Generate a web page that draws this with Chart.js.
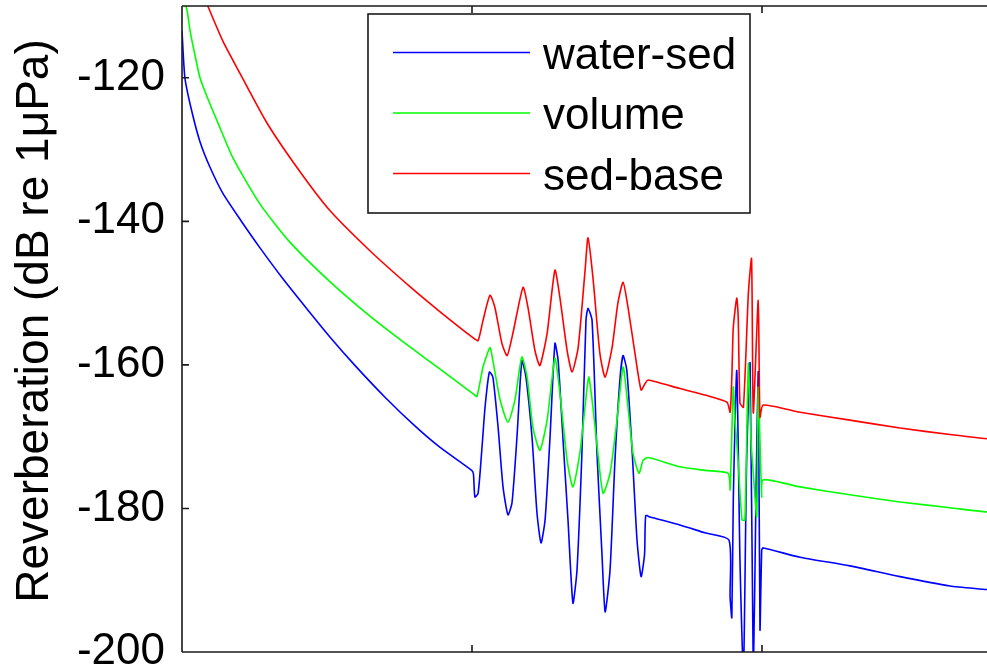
<!DOCTYPE html>
<html>
<head>
<meta charset="utf-8">
<script src="https://cdn.jsdelivr.net/npm/chart.js@4/dist/chart.umd.min.js"></script>
<style>
  html, body { margin: 0; padding: 0; background: #fff; overflow: hidden; width: 987px; height: 670px; }
  canvas { display: block; }
</style>
</head>
<body>
<canvas id="c" width="1060" height="670"></canvas>
<script>
// Series names and colours
const seriesNames = ['water-sed', 'volume', 'sed-base'];
const seriesColors = ['#0000ff', '#00ff00', '#ff0000'];

// Axis ticks
const yTicks = [-200, -180, -160, -140, -120];
const xTicks = [0, 100, 200, 300];
const yTitle = 'Reverberation (dB re 1\u03bcPa)';

// water-sed interface reverberation
const waterSedX = [0, 1.0, 3.4, 6.2, 9.7, 14.1, 20.0, 26.9, 34.8, 43.1,
  51.0, 59.7, 70.0, 80.3, 89.0, 99.9, 100.5, 101.0, 102.1, 103.3,
  104.5, 106.0, 107.2, 109.0, 110.7, 112.4, 113.8, 115.5, 117.2, 118.6,
  120.7, 122.4, 123.8, 125.2, 126.9, 128.6, 129.7, 131.4, 133.1, 134.8,
  136.2, 137.9, 139.3, 140.0, 141.4, 143.1, 144.8, 145.9, 147.6, 149.3,
  151.0, 152.1, 153.4, 155.2, 156.9, 158.3, 159.5, 159.9, 161.4, 171.7,
  180.3, 188.6, 189.0, 189.6, 190.1, 191.3, 192.4, 193.6, 194.7, 195.9,
  197.0, 197.9, 198.7, 199.3, 199.9, 200.4, 213.1, 230.3, 247.6, 264.8,
  277.6, 300];
const waterSedY = [-113.5, -120.0, -124.7, -128.9, -132.5, -136.1, -139.7, -143.7, -148.0, -152.2,
  -156.1, -160.1, -164.5, -168.5, -171.5, -174.7, -175.2, -178.4, -177.9, -172.3,
  -165.9, -161.0, -161.7, -168.7, -177.0, -180.9, -179.2, -170.1, -159.4, -161.7,
  -170.1, -180.6, -184.8, -181.6, -170.1, -157.0, -159.4, -170.5, -181.6, -193.2,
  -188.6, -172.3, -153.8, -152.1, -153.8, -172.3, -186.2, -194.4, -188.6, -173.3,
  -162.1, -158.7, -160.8, -171.9, -184.4, -189.5, -186.4, -181.0, -181.2, -182.3,
  -183.4, -184.4, -192.3, -195.2, -178.8, -160.8, -187.2, -203.0, -173.3, -159.8,
  -203.0, -178.8, -161.0, -196.9, -185.8, -185.5, -186.8, -188.0, -189.5, -190.8,
  -191.3, -192.3];

// volume reverberation
const volumeX = [0.7, 1.7, 2.8, 4.5, 6.2, 8.6, 12.1, 17.6, 26.9, 37.2,
  51.0, 64.8, 78.6, 89.0, 100.3, 101.7, 103.8, 106.2, 107.2, 109.7,
  112.4, 114.8, 117.2, 119.0, 121.0, 123.4, 125.9, 128.6, 130.3, 132.8,
  134.8, 137.2, 139.7, 140.3, 141.7, 143.4, 145.2, 147.6, 150.0, 152.1,
  153.8, 155.5, 157.6, 159.0, 160.7, 171.7, 180.3, 188.3, 189.0, 190.1,
  190.7, 191.7, 193.1, 194.1, 195.3, 196.2, 197.0, 198.2, 198.7, 199.9,
  200.4, 213.1, 230.3, 247.6, 264.8, 277.6, 300];
const volumeY = [-109.3, -110.5, -113.5, -116.9, -120.0, -122.6, -126.0, -131.2, -137.6, -142.9,
  -148.4, -153.2, -157.5, -160.6, -164.0, -164.4, -160.3, -157.6, -159.4, -164.9,
  -168.0, -164.9, -158.9, -161.7, -168.7, -171.9, -167.7, -159.1, -163.9, -173.3,
  -177.0, -172.3, -163.1, -161.7, -165.9, -172.3, -177.9, -175.1, -167.7, -160.3,
  -165.9, -172.3, -175.1, -173.3, -172.9, -174.2, -174.7, -175.1, -177.4, -163.1,
  -167.7, -173.0, -181.6, -181.6, -159.8, -170.5, -175.1, -181.2, -163.1, -178.4,
  -176.0, -177.0, -178.1, -179.1, -179.9, -180.5, -181.3];

// sed-base interface reverberation
const sedBaseX = [8.3, 9.0, 14.1, 20.0, 29.3, 40.7, 51.0, 64.8, 78.6, 89.0,
  100.3, 102.1, 103.8, 106.2, 107.9, 110.3, 112.1, 114.1, 117.6, 119.3,
  121.7, 123.4, 125.9, 128.6, 130.3, 132.8, 134.5, 136.6, 139.0, 140.0,
  141.7, 144.1, 145.9, 148.3, 150.3, 152.1, 153.8, 156.2, 158.3, 159.7,
  160.7, 171.7, 180.3, 187.9, 189.0, 189.6, 190.1, 191.3, 191.8, 192.4,
  193.6, 195.3, 196.4, 197.0, 198.7, 199.3, 200.4, 213.1, 230.3, 247.6,
  264.8, 277.6, 300];
const sedBaseY = [-109.3, -110.1, -114.9, -119.4, -126.3, -133.1, -138.5, -144.1, -149.1, -152.6,
  -156.2, -156.6, -153.8, -150.3, -152.0, -157.0, -158.7, -155.6, -149.2, -152.0,
  -158.0, -160.1, -155.6, -146.8, -150.6, -158.0, -161.0, -157.6, -146.8, -142.3,
  -147.8, -158.4, -161.7, -157.6, -151.4, -148.5, -152.0, -158.4, -163.5, -162.6,
  -162.1, -163.3, -164.2, -165.2, -166.6, -161.7, -154.8, -150.7, -153.4, -165.3,
  -165.9, -150.0, -145.2, -166.7, -151.0, -167.3, -165.6, -166.6, -167.7, -168.8,
  -169.7, -170.3, -171.0];

const FONT = "'Liberation Sans', Arial, Helvetica, sans-serif";

function toPoints(xs, ys) {
  return xs.map((x, i) => ({ x: x, y: ys[i] }));
}

const seriesData = [
  toPoints(waterSedX, waterSedY),
  toPoints(volumeX, volumeY),
  toPoints(sedBaseX, sedBaseY)
];

// Axes box with inward tick marks and the y-axis title, drawn above the curves
const axesBox = {
  id: 'axesBox',
  afterDatasetsDraw(chart) {
    const { ctx, chartArea: a, scales } = chart;
    const xs = scales.x, ys = scales.y;
    ctx.save();
    ctx.strokeStyle = '#1a1a1a';
    ctx.lineWidth = 1.6;
    ctx.beginPath();
    ctx.moveTo(a.left, a.top); ctx.lineTo(a.right, a.top);
    ctx.moveTo(a.left, a.top); ctx.lineTo(a.left, a.bottom);
    ctx.moveTo(a.left, a.bottom); ctx.lineTo(a.right, a.bottom);
    ctx.moveTo(a.right, a.top); ctx.lineTo(a.right, a.bottom);
    yTicks.forEach(v => {
      const p = ys.getPixelForValue(v);
      ctx.moveTo(a.left, p); ctx.lineTo(a.left + 7, p);
      ctx.moveTo(a.right, p); ctx.lineTo(a.right - 7, p);
    });
    xTicks.forEach(v => {
      const p = xs.getPixelForValue(v);
      ctx.moveTo(p, a.bottom); ctx.lineTo(p, a.bottom - 7);
      ctx.moveTo(p, a.top); ctx.lineTo(p, a.top + 7);
    });
    ctx.stroke();

    ctx.save();
    ctx.translate(35, 321);
    ctx.rotate(-Math.PI / 2);
    ctx.font = '46px ' + FONT;
    ctx.fillStyle = '#000';
    ctx.textAlign = 'center';
    ctx.textBaseline = 'middle';
    ctx.fillText(yTitle, 0, 0);
    ctx.restore();
    ctx.restore();
  }
};

// Boxed legend with line samples, placed inside the axes
const boxLegend = {
  id: 'boxLegend',
  afterDraw(chart) {
    const { ctx } = chart;
    const bx = 368, by = 14, bw = 382, bh = 199;
    ctx.save();
    ctx.fillStyle = '#fff';
    ctx.fillRect(bx, by, bw, bh);
    ctx.strokeStyle = '#1a1a1a';
    ctx.lineWidth = 1.6;
    ctx.strokeRect(bx, by, bw, bh);
    ctx.font = '44px ' + FONT;
    ctx.textAlign = 'left';
    ctx.textBaseline = 'alphabetic';
    chart.data.datasets.forEach((ds, i) => {
      const ly = 52.5 + i * 60.5;
      ctx.strokeStyle = ds.borderColor;
      ctx.lineWidth = 1.6;
      ctx.beginPath();
      ctx.moveTo(393, ly); ctx.lineTo(530, ly);
      ctx.stroke();
      ctx.fillStyle = '#000';
      ctx.fillText(ds.label, 543, ly + 16);
    });
    ctx.restore();
  }
};

new Chart(document.getElementById('c'), {
  type: 'line',
  data: {
    datasets: seriesNames.map((name, i) => ({
      label: name,
      data: seriesData[i],
      borderColor: seriesColors[i],
      backgroundColor: seriesColors[i],
      borderWidth: 1.6,
      pointRadius: 0,
      tension: 0.2,
      fill: false,
      order: 2 - i
    }))
  },
  options: {
    responsive: false,
    animation: false,
    devicePixelRatio: 1,
    layout: { padding: { top: 6, right: 8, left: 0, bottom: 0 } },
    plugins: { legend: { display: false }, tooltip: { enabled: false } },
    scales: {
      x: {
        type: 'linear',
        min: 0,
        max: 300,
        grid: { display: false, drawTicks: false },
        border: { display: false },
        ticks: { display: false, stepSize: 100 },
        afterFit(scale) {
          scale.height = 18;
          scale.paddingLeft = 0; scale.paddingRight = 0;
        }
      },
      y: {
        type: 'linear',
        min: -200,
        max: -110,
        grid: { display: false, drawTicks: false },
        border: { display: false },
        afterBuildTicks(scale) {
          scale.ticks = yTicks.map(v => ({ value: v }));
        },
        ticks: {
          color: '#000',
          padding: 17,
          font: { family: FONT, size: 44 }
        },
        afterFit(scale) {
          scale.width = 182;
          scale.paddingTop = 0; scale.paddingBottom = 0;
        }
      }
    }
  },
  plugins: [axesBox, boxLegend]
});
</script>
</body>
</html>
